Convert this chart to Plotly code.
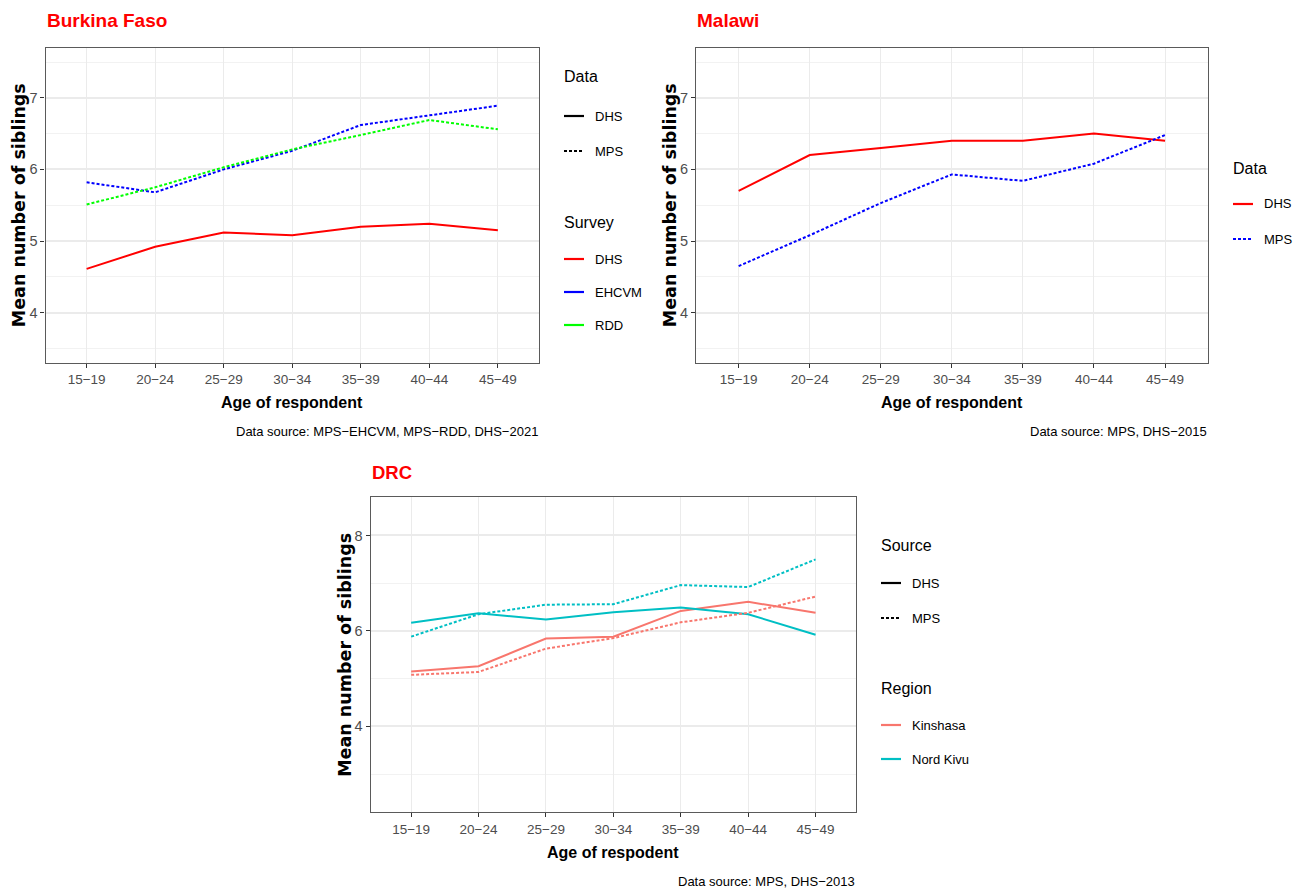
import plotly.graph_objects as go

# ---- data -----------------------------------------------------------------
AGE_GROUPS = ["15−19", "20−24", "25−29", "30−34", "35−39", "40−44", "45−49"]

# Burkina Faso
BF_DHS = [4.61, 4.92, 5.12, 5.08, 5.20, 5.24, 5.15]
BF_EHCVM = [5.82, 5.68, 6.00, 6.26, 6.62, 6.75, 6.89]
BF_RDD = [5.51, 5.75, 6.03, 6.28, 6.48, 6.69, 6.56]

# Malawi
MW_DHS = [5.70, 6.20, 6.30, 6.40, 6.40, 6.50, 6.40]
MW_MPS = [4.65, 5.08, 5.53, 5.93, 5.84, 6.08, 6.48]

# DRC
KIN_DHS = [5.15, 5.26, 5.84, 5.88, 6.42, 6.61, 6.38]
KIN_MPS = [5.08, 5.14, 5.63, 5.85, 6.18, 6.38, 6.72]
NK_DHS = [6.17, 6.37, 6.24, 6.39, 6.49, 6.35, 5.92]
NK_MPS = [5.88, 6.35, 6.55, 6.56, 6.96, 6.92, 7.50]

PANEL_TITLES = ["Burkina Faso", "Malawi", "DRC"]
X_TITLES = ["Age of respondent", "Age of respondent", "Age of respodent"]
Y_TITLE = "Mean number of siblings"
CAPTIONS = ["Data source: MPS−EHCVM, MPS−RDD, DHS−2021",
            "Data source: MPS, DHS−2015",
            "Data source: MPS, DHS−2013"]

# ---- styling ----------------------------------------------------------------
W, H = 1304, 890
NARROW = "Liberation Sans Narrow, Arial Narrow, Liberation Sans, sans-serif"
WIDE = "DejaVu Sans, Liberation Sans, sans-serif"
RED, BLUE, GREEN = "#FF0000", "#0000FF", "#00FF00"
KIN_COL, NK_COL = "#F8766D", "#00BFC4"
DOT = "3px,2px"
LW = 2
TICK_SIZE = 13.5


def px(x):
    return x / W


def py(y):
    return 1 - y / H


fig = go.Figure()


def add_line(xaxis, yaxis, values, color, dash):
    fig.add_trace(go.Scatter(
        x=AGE_GROUPS, y=values, mode="lines", xaxis=xaxis, yaxis=yaxis,
        line=dict(color=color, width=LW, dash=dash),
        showlegend=False, hoverinfo="x+y"))


# Burkina Faso
add_line("x", "y", BF_DHS, RED, "solid")
add_line("x", "y", BF_EHCVM, BLUE, DOT)
add_line("x", "y", BF_RDD, GREEN, DOT)
# Malawi
add_line("x2", "y2", MW_DHS, RED, "solid")
add_line("x2", "y2", MW_MPS, BLUE, DOT)
# DRC
add_line("x3", "y3", KIN_DHS, KIN_COL, "solid")
add_line("x3", "y3", NK_DHS, NK_COL, "solid")
add_line("x3", "y3", KIN_MPS, KIN_COL, DOT)
add_line("x3", "y3", NK_MPS, NK_COL, DOT)

# panel boxes in page pixels: left, right, top, bottom
PANELS = [
    dict(l=45.5, r=539.0, t=47.7, b=362.7, yr=[3.3, 7.7], dt=1),
    dict(l=696.0, r=1207.7, t=47.7, b=362.7, yr=[3.3, 7.7], dt=1),
    dict(l=370.7, r=856.0, t=497.3, b=812.3, yr=[2.2, 8.8], dt=2),
]

layout = dict(
    width=W, height=H, margin=dict(l=0, r=0, t=0, b=0),
    paper_bgcolor="white", plot_bgcolor="white", showlegend=False,
)
for i, p in enumerate(PANELS):
    sfx = "" if i == 0 else str(i + 1)
    layout["xaxis" + sfx] = dict(
        domain=[px(p["l"]), px(p["r"])], anchor="y" + sfx,
        type="category", range=[-0.6, 6.6],
        showgrid=True, gridcolor="#EBEBEB", gridwidth=1.2,
        showline=True, mirror=True, linecolor="#5A5A5A", linewidth=1.2,
        ticks="outside", ticklen=4, tickwidth=1, tickcolor="#333333",
        tickfont=dict(family=NARROW, size=TICK_SIZE, color="#4D4D4D"),
        zeroline=False, fixedrange=True,
    )
    layout["yaxis" + sfx] = dict(
        domain=[py(p["b"]), py(p["t"])], anchor="x" + sfx,
        range=p["yr"], dtick=p["dt"], tick0=0,
        showgrid=True, gridcolor="#EBEBEB", gridwidth=1.8,
        minor=dict(showgrid=True, dtick=p["dt"] / 2, tick0=0,
                   gridcolor="#F2F2F2", gridwidth=1.2),
        showline=True, mirror=True, linecolor="#5A5A5A", linewidth=1.2,
        ticks="outside", ticklen=4, tickwidth=1, tickcolor="#333333",
        tickfont=dict(family=NARROW, size=TICK_SIZE + 1, color="#4D4D4D"),
        zeroline=False, fixedrange=True,
    )

annotations = []
shapes = []


def text(s, x, y, size, family=NARROW, color="black", bold=False,
         xanchor="left", angle=0):
    annotations.append(dict(
        text=f"<b>{s}</b>" if bold else s, x=px(x), y=py(y),
        xref="paper", yref="paper", xanchor=xanchor, yanchor="middle",
        showarrow=False, textangle=angle,
        font=dict(family=family, size=size, color=color)))


# panel titles
text(PANEL_TITLES[0], 44.5, 21, 19, color=RED, bold=True)
text(PANEL_TITLES[1], 695.0, 21, 19, color=RED, bold=True)
text(PANEL_TITLES[2], 369.7, 472, 18.5, color=RED, bold=True)

# axis titles and captions
for p, xt, cap, yx in zip(PANELS, X_TITLES, CAPTIONS, [19, 670, 345]):
    cx = (p["l"] + p["r"]) / 2
    cy = (p["t"] + p["b"]) / 2
    text(xt, cx, p["b"] + 40, 16, bold=True, xanchor="center")
    text(Y_TITLE, yx, cy, 17.5, family=WIDE, bold=True, xanchor="center",
         angle=-90)
    text(cap, p["r"] + 1, p["b"] + 69, 13, xanchor="right")

# legends
LEGENDS = [
    dict(x=563, title="Data", ty=77,
         items=[("DHS", "black", "solid", 116), ("MPS", "black", DOT, 151)]),
    dict(x=563, title="Survey", ty=222,
         items=[("DHS", RED, "solid", 259), ("EHCVM", BLUE, "solid", 292),
                ("RDD", GREEN, "solid", 325)]),
    dict(x=1232, title="Data", ty=168,
         items=[("DHS", RED, "solid", 204), ("MPS", BLUE, DOT, 239)]),
    dict(x=880, title="Source", ty=545,
         items=[("DHS", "black", "solid", 583), ("MPS", "black", DOT, 618)]),
    dict(x=880, title="Region", ty=688,
         items=[("Kinshasa", KIN_COL, "solid", 725),
                ("Nord Kivu", NK_COL, "solid", 759)]),
]
for lg in LEGENDS:
    text(lg["title"], lg["x"] - 1, lg["ty"], 16)
    for label, color, dash, yy in lg["items"]:
        shapes.append(dict(
            type="line", xref="paper", yref="paper",
            x0=px(lg["x"] + 1), x1=px(lg["x"] + 21), y0=py(yy), y1=py(yy),
            line=dict(color=color, width=2.2, dash=dash)))
        text(label, lg["x"] + 30, yy, 13)

layout["annotations"] = annotations
layout["shapes"] = shapes
fig.update_layout(**layout)

fig.write_html("out.html")
